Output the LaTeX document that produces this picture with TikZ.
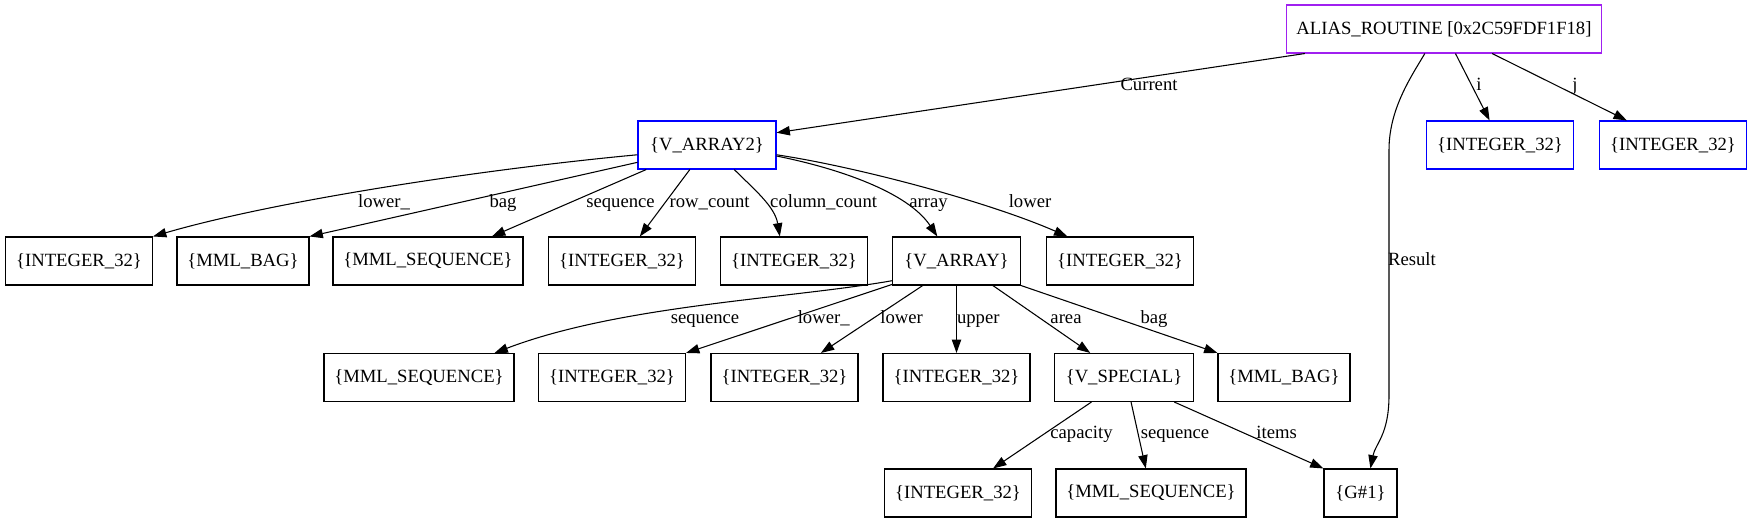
\documentclass[tikz,border=0pt]{standalone}
\usepackage{fontspec}
\setmainfont{Liberation Serif}
\usetikzlibrary{arrows.meta}
\definecolor{aliasc}{HTML}{A020F0}
\definecolor{bluec}{HTML}{0000FF}
\begin{document}
\begin{tikzpicture}[x=0.75pt,y=-0.75pt,
  box/.style={draw, rectangle, minimum height=36pt, inner sep=0pt, line width=0.8pt,
    font=\fontsize{14pt}{16pt}\selectfont},
  wInt/.style={minimum width=110.25pt},
  wBag/.style={minimum width=99pt},
  wSeq/.style={minimum width=142.5pt},
  wVtwo/.style={minimum width=103.5pt},
  wVarr/.style={minimum width=96pt},
  wVsp/.style={minimum width=104.25pt},
  wG/.style={minimum width=54.75pt},
  wAlias/.style={minimum width=236.5pt},
  lbl/.style={inner sep=0pt, anchor=base, font=\fontsize{14pt}{16pt}\selectfont},
  conn/.style={draw, line width=0.8pt, -{Triangle[length=10pt,width=7pt]}}
]
\useasboundingbox (0,0) rectangle (1752,523);

% nodes
\node[box,wAlias,draw=aliasc] (alias) at (1444,29) {ALIAS\_ROUTINE [0x2C59FDF1F18]};
\node[box,wVtwo,draw=bluec] (v2) at (707,145) {\{V\_ARRAY2\}};
\node[box,wInt,draw=bluec] (ii) at (1500,145) {\{INTEGER\_32\}};
\node[box,wInt,draw=bluec] (ij) at (1673,145) {\{INTEGER\_32\}};

\node[box,wInt] (int1) at (79,261) {\{INTEGER\_32\}};
\node[box,wBag] (bag1) at (243,261) {\{MML\_BAG\}};
\node[box,wSeq] (seq1) at (428,261) {\{MML\_SEQUENCE\}};
\node[box,wInt] (int2) at (622,261) {\{INTEGER\_32\}};
\node[box,wInt] (int3) at (794,261) {\{INTEGER\_32\}};
\node[box,wVarr] (varr) at (956.5,261) {\{V\_ARRAY\}};
\node[box,wInt] (int4) at (1120,261) {\{INTEGER\_32\}};

\node[box,wSeq] (seq2) at (419,377.5) {\{MML\_SEQUENCE\}};
\node[box,wInt] (int5) at (612,377.5) {\{INTEGER\_32\}};
\node[box,wInt] (int6) at (784.5,377.5) {\{INTEGER\_32\}};
\node[box,wInt] (int7) at (956.5,377.5) {\{INTEGER\_32\}};
\node[box,wVsp] (vsp) at (1124,377.5) {\{V\_SPECIAL\}};
\node[box,wBag] (bag2) at (1284,377.5) {\{MML\_BAG\}};

\node[box,wInt] (int8) at (958,493) {\{INTEGER\_32\}};
\node[box,wSeq] (seq3) at (1151,493) {\{MML\_SEQUENCE\}};
\node[box,wG] (g1) at (1360.5,493) {\{G\#1\}};

\coordinate (r1) at (1389,150);
\coordinate (r2) at (1389,395);

% edges
\draw[conn] (alias.-170.7) -- (v2.10.9);
\draw[conn] (alias.-128.4) .. controls +(-15,25) and +(0,-40) .. (r1) -- (r2)
  .. controls +(0,40) and +(5,-25) .. (g1.68.8);
\draw[conn] (alias.-65) -- (ii.113.2);
\draw[conn] (alias.-27.35) -- (ij.152.9);

\draw[conn] (v2.-172.6) .. controls +(-160,15) and +(120,-35) .. (int1.north east);
\draw[conn] (v2.-166.2) -- (bag1.north east);
\draw[conn] (v2.-158.8) -- (seq1.21.8);
\draw[conn] (v2.-125.8) -- (int2.54.7);
\draw[conn] (v2.-42.3) .. controls +(20,20) and +(-5,-30) .. (int3.120.3);
\draw[conn] (v2.-9.9) .. controls +(60,12) and +(-30,-45) .. (varr.128.4);
\draw[conn] (v2.-8.2) .. controls +(80,12) and +(-80,-35) .. (int4.155.2);

\draw[conn] (varr.-163) .. controls +(-102,18) and +(126,-48) .. (seq2.18.3);
\draw[conn] (varr.-160) -- (int5.north east);
\draw[conn] (varr.-144.5) -- (int6.34.6);
\draw[conn] (varr.south) -- (int7.north);
\draw[conn] (varr.-34.8) -- (vsp.144);
\draw[conn] (varr.south east) -- (bag2.north west);

\draw[conn] (vsp.-143.7) -- (int8.35.5);
\draw[conn] (vsp.-74.8) -- (seq3.102.9);
\draw[conn] (vsp.-26.3) -- (g1.north west);

% labels
\node[lbl] (lCurrent) at (1149,91) {Current};
\node[lbl] (lResult) at (1412,265.5) {Result};
\node[lbl] (li) at (1479,91) {i};
\node[lbl] (lj) at (1575,91) {j};
\node[lbl] (lLowerU) at (384,207.5) {lower\_};
\node[lbl] (lBag) at (503,207.5) {bag};
\node[lbl] (lSeq) at (620.5,207.5) {sequence};
\node[lbl] (lRow) at (709.6,207.5) {row\_count};
\node[lbl] (lCol) at (823.6,207.5) {column\_count};
\node[lbl] (lArray) at (928.5,207.5) {array};
\node[lbl] (lLower) at (1030,207.5) {lower};
\node[lbl] (lSeqB) at (705,323.5) {sequence};
\node[lbl] (lLowerUB) at (823.7,323.5) {lower\_};
\node[lbl] (lLowerB) at (901.7,323.5) {lower};
\node[lbl] (lUpper) at (978.3,323.5) {upper};
\node[lbl] (lArea) at (1066,323.5) {area};
\node[lbl] (lBagB) at (1154,323.5) {bag};
\node[lbl] (lCap) at (1081.5,439) {capacity};
\node[lbl] (lSeqC) at (1175,439) {sequence};
\node[lbl] (lItems) at (1276.7,439) {items};
\end{tikzpicture}
\end{document}
